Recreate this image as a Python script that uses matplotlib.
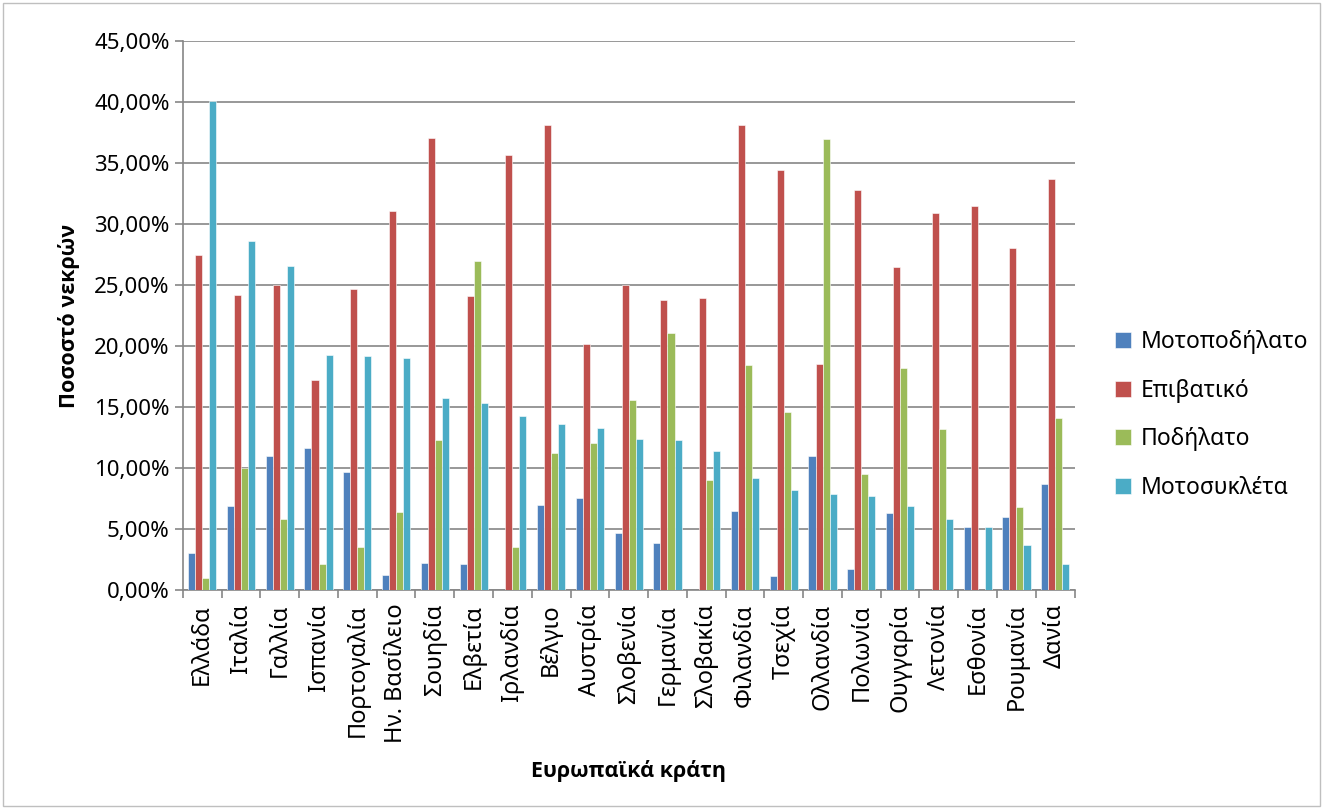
import numpy as np
import matplotlib.pyplot as plt
from matplotlib.patches import Rectangle
from matplotlib.ticker import FuncFormatter, FixedLocator

plt.rcParams['font.family'] = ['Noto Sans', 'DejaVu Sans']

countries = ['Ελλάδα', 'Ιταλία', 'Γαλλία', 'Ισπανία', 'Πορτογαλία', 'Ην. Βασίλειο',
             'Σουηδία', 'Ελβετία', 'Ιρλανδία', 'Βέλγιο', 'Αυστρία', 'Σλοβενία',
             'Γερμανία', 'Σλοβακία', 'Φιλανδία', 'Τσεχία', 'Ολλανδία', 'Πολωνία',
             'Ουγγαρία', 'Λετονία', 'Εσθονία', 'Ρουμανία', 'Δανία']

# percentages of deaths per vehicle type
moped = [3.05, 6.86, 11.0, 11.6, 9.67, 1.23, 2.19, 2.13, 0.0, 6.95, 7.49, 4.64,
         3.8, 0.0, 6.5, 1.14, 11.0, 1.7, 6.26, 0.0, 5.18, 5.93, 8.65]
car = [27.5, 24.2, 25.0, 17.2, 24.7, 31.1, 37.1, 24.1, 35.7, 38.1, 20.2, 25.0,
       23.8, 23.9, 38.1, 34.4, 18.5, 32.8, 26.5, 30.9, 31.5, 28.0, 33.7]
bicycle = [1.0, 10.0, 5.84, 2.1, 3.47, 6.35, 12.3, 27.0, 3.53, 11.26, 12.07, 15.6,
           21.1, 9.04, 18.4, 14.55, 37.0, 9.5, 18.2, 13.2, 0.0, 6.77, 14.07]
motorcycle = [40.1, 28.6, 26.6, 19.3, 19.2, 19.0, 15.7, 15.3, 14.25, 13.6, 13.26, 12.4,
              12.28, 11.35, 9.13, 8.17, 7.87, 7.66, 6.9, 5.84, 5.18, 3.65, 2.13]

series = [('Μοτοποδήλατο', moped, '#4F81BD'),
          ('Επιβατικό', car, '#C0504D'),
          ('Ποδήλατο', bicycle, '#9BBB59'),
          ('Μοτοσυκλέτα', motorcycle, '#4BACC6')]

fig = plt.figure(figsize=(13.25, 8.09), dpi=100)
ax = fig.add_axes([0.138, 0.271, 0.673, 0.678])

x = np.arange(len(countries))
w = 1 / 5.5
for i, (name, vals, col) in enumerate(series):
    ax.bar(x + (i - 1.5) * w, np.array(vals) / 100, width=w, color=col,
           edgecolor='white', linewidth=0.4, label=name, zorder=3)

ax.set_xlim(-0.5, len(countries) - 0.5)
ax.set_ylim(0, 0.45)
ax.set_yticks(np.arange(0, 0.451, 0.05))
ax.yaxis.set_major_formatter(FuncFormatter(lambda v, p: f'{v * 100:.2f}%'.replace('.', ',')))
ax.grid(axis='y', color='#868686', linewidth=1.2, zorder=0)

ax.set_xticks(x)
ax.set_xticklabels(countries, rotation=90, fontsize=17)
ax.tick_params(axis='x', length=0, pad=10)
ax.xaxis.set_minor_locator(FixedLocator(np.arange(-0.5, len(countries), 1)))
ax.tick_params(axis='x', which='minor', length=6, color='#868686', width=1.2)
ax.tick_params(axis='y', labelsize=16, length=6, color='#868686', width=1.2)

for s in ['top', 'right']:
    ax.spines[s].set_visible(False)
for s in ['left', 'bottom']:
    ax.spines[s].set_color('#868686')
    ax.spines[s].set_linewidth(1.2)

bold = dict(family=['Open Sans', 'DejaVu Sans'], fontsize=15.5, fontweight='bold')
ax.set_ylabel('Ποσοστό νεκρών', labelpad=10, **bold)
ax.set_xlabel('Ευρωπαϊκά κράτη', labelpad=12, **bold)

fig.legend(loc='center left', bbox_to_anchor=(0.826, 0.487), frameon=False,
           fontsize=16.5, handlelength=0.7, handleheight=0.7, handletextpad=0.4,
           labelspacing=1.08)

fig.patches.append(Rectangle((0.002, 0.004), 0.994, 0.992, transform=fig.transFigure,
                             fill=False, edgecolor='#BFBFBF', linewidth=1))

fig.savefig('out.png', dpi=100)
